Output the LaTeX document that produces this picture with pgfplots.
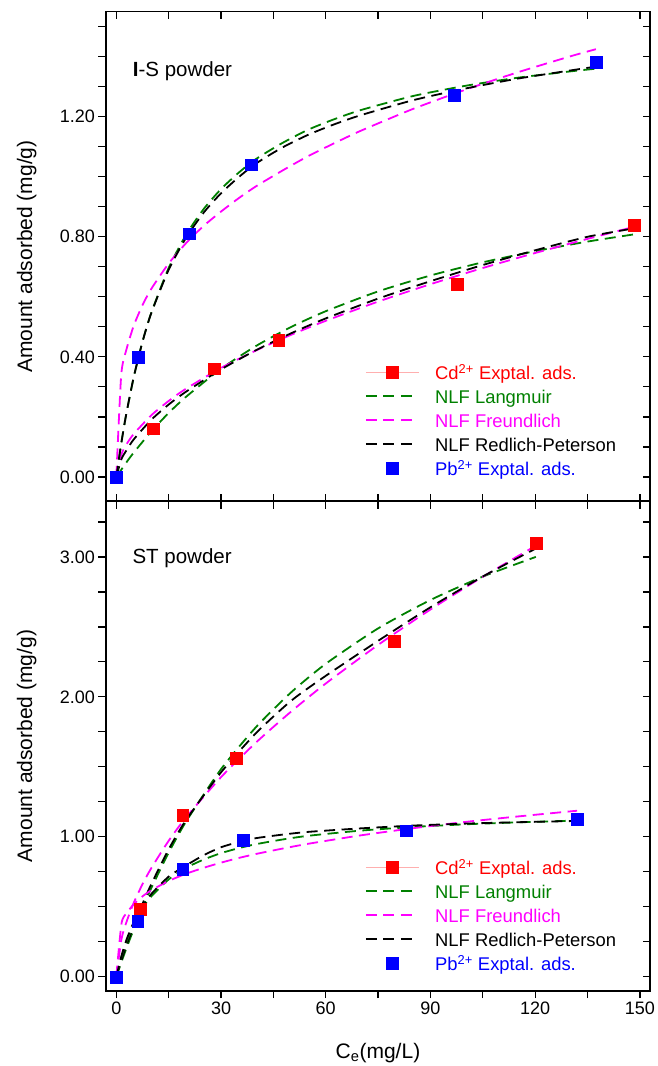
\documentclass[border=0pt]{standalone}
\usepackage{pgfplots}
\usepackage{pgfplotstable}
\pgfplotsset{compat=1.18}
\usepackage{fontspec}
\setmainfont{Liberation Sans}

\definecolor{ored}{RGB}{255,0,0}
\definecolor{oblue}{RGB}{0,0,255}
\definecolor{ogreen}{RGB}{0,128,0}
\definecolor{omag}{RGB}{255,0,255}
\definecolor{opink}{RGB}{255,175,175}

% ---- I-S powder: experimental points
\pgfplotstableread{
x y
0 0
10.6 0.161
27.9 0.361
46.5 0.456
97.6 0.643
148.3 0.839
}\isCdPts
\pgfplotstableread{
x y
0 0
6.3 0.400
20.8 0.811
38.6 1.041
96.8 1.272
137.4 1.382
}\isPbPts
% ---- I-S powder: fitted curves (L = Langmuir, F = Freundlich, R = Redlich-Peterson)
\pgfplotstableread{
x L F R
0 0 0 0
1.5 0.025 0.076 0.060
3 0.050 0.110 0.090
5 0.081 0.143 0.125
10 0.151 0.205 0.190
15 0.213 0.253 0.241
20 0.267 0.294 0.284
30 0.360 0.363 0.358
40 0.436 0.421 0.422
50 0.499 0.473 0.478
60 0.552 0.520 0.528
75 0.618 0.584 0.594
90 0.671 0.642 0.652
105 0.715 0.696 0.706
120 0.752 0.746 0.755
135 0.784 0.793 0.800
148.3 0.808 0.833 0.828
}\isCdFit
\pgfplotstableread{
x L F R
0 0 0 0
1.4 0.110 0.338 0.110
2.8 0.206 0.420 0.206
5 0.332 0.504 0.333
7.5 0.450 0.572 0.450
10 0.546 0.626 0.545
15 0.696 0.711 0.690
20 0.807 0.779 0.797
25 0.892 0.836 0.880
30 0.959 0.884 0.945
35 1.013 0.928 0.998
40 1.059 0.968 1.044
47.5 1.112 1.020 1.097
55 1.157 1.069 1.140
62.5 1.192 1.112 1.175
70 1.222 1.153 1.205
85 1.269 1.226 1.255
100 1.303 1.290 1.294
115 1.330 1.348 1.327
130 1.351 1.401 1.354
137.4 1.360 1.425 1.367
}\isPbFit

% ---- ST powder: experimental points
\pgfplotstableread{
x y
0 0
6.8 0.484
19.0 1.155
34.3 1.564
79.5 2.398
120.2 3.100
}\stCdPts
\pgfplotstableread{
x y
0 0
6.1 0.398
19.0 0.769
36.4 0.976
83.0 1.044
132.0 1.124
}\stPbPts
% ---- ST powder: fitted curves
\pgfplotstableread{
x L F R
0 0 0 0
1.5 0.107 0.271 0.12
3 0.210 0.397 0.23
5 0.339 0.528 0.36
7.5 0.491 0.661 0.52
10 0.632 0.775 0.66
15 0.886 0.971 0.91
20 1.109 1.139 1.12
30 1.483 1.426 1.46
40 1.783 1.673 1.74
50 2.030 1.893 1.97
60 2.236 2.095 2.15
75 2.489 2.371 2.40
90 2.692 2.624 2.64
105 2.859 2.858 2.86
120.2 3.000 3.080 3.06
}\stCdFit
\pgfplotstableread{
x L F R
0 0 0 0
1.5 0.144 0.382 0.150
3 0.257 0.455 0.270
5 0.376 0.518 0.390
7.5 0.488 0.574 0.500
10 0.573 0.617 0.590
15 0.695 0.684 0.715
20 0.778 0.736 0.795
25 0.837 0.778 0.868
30 0.883 0.815 0.925
35 0.918 0.848 0.962
40 0.947 0.877 0.990
47.5 0.980 0.915 1.015
55 1.007 0.950 1.035
70 1.044 1.010 1.060
85 1.070 1.061 1.080
100 1.089 1.106 1.094
115 1.103 1.145 1.104
132 1.116 1.186 1.113
}\stPbFit

\pgfplotsset{
  panel/.style={
    width=544pt, height=489.5pt, scale only axis, anchor=south west,
    xmin=-2.95, xmax=152.9,
    xtick={-30,0,30,60,90,120,150,180}, minor x tick num=1,
    /pgf/number format/assume math mode=true,
    tick label style={font=\fontsize{18}{21}\selectfont},
    major tick length=7.5pt, minor tick length=7.5pt,
    tick style={black, line width=1.3pt},
    axis line style={line width=1.6pt},
    yticklabel style={/pgf/number format/.cd, fixed, fixed zerofill, precision=2},
    every axis y label/.style={at={(axis description cs:-0.136,0.5)}, rotate=90,
      anchor=base, font=\fontsize{21}{25}\selectfont},
    every axis x label/.style={at={(axis description cs:0.5,-0.139)}, anchor=base,
      font=\fontsize{21}{25}\selectfont},
  },
  over/.style={axis y line*=left, axis line style={draw=none}, tick align=outside},
  main/.style={tick align=inside, ytick pos=right, xticklabels={}, yticklabels={},
    legend cell align=left,
    legend image code/.code={\draw[##1] (0pt,0pt) -- (48pt,0pt);},
    legend style={draw=none, fill=none, anchor=north west, inner sep=0pt, outer sep=0pt,
      font=\fontsize{18.4}{21}\selectfont, row sep=2.2pt, column sep=16pt,
      nodes={inner sep=0pt, text height=18.5pt, text depth=3.3pt}},
  },
  pts/.style={only marks, mark=square*, mark size=5.9pt, mark options={line width=0.1pt}},
  fit/.style={no marks, smooth, tension=0.4, line width=1.8pt, dash pattern=on 11pt off 6.5pt},
  cdimg/.style={legend image code/.code={%
    \draw[opink, line width=0.7pt] (0pt,0pt) -- (53pt,0pt);
    \fill[ored] (20.6pt,-5.9pt) rectangle (32.4pt,5.9pt);}},
  pbimg/.style={legend image code/.code={%
    \fill[oblue] (20.6pt,-5.9pt) rectangle (32.4pt,5.9pt);}},
}

\begin{document}
\begin{tikzpicture}
\useasboundingbox (-106pt,-75.3pt) rectangle (552pt,990.7pt);

% ================= I-S powder (top)
\begin{axis}[panel, over, at={(0pt,489.5pt)},
  ymin=-0.081, ymax=1.55, ytick={-0.4,0,0.4,0.8,1.2,1.6}, minor y tick num=3,
  hide x axis, ylabel={Amount adsorbed (mg/g)}]
\end{axis}
\begin{axis}[panel, main, at={(0pt,489.5pt)},
  ymin=-0.081, ymax=1.55, ytick={-0.4,0,0.4,0.8,1.2,1.6}, minor y tick num=3,
  xtick pos=both,
  legend style={at={(0.476,0.28621)}}]
\addplot[pts, ored, cdimg] table {\isCdPts};
\addlegendentry{\textcolor{ored}{Cd\textsuperscript{2+} Exptal. ads.}}
\addplot[pts, oblue, forget plot] table {\isPbPts};
\addplot[fit, ogreen] table[x=x, y=L] {\isCdFit};
\addlegendentry{\textcolor{ogreen}{NLF Langmuir}}
\addplot[fit, omag] table[x=x, y=F] {\isCdFit};
\addlegendentry{\textcolor{omag}{NLF Freundlich}}
\addplot[fit, black] table[x=x, y=R] {\isCdFit};
\addlegendentry{NLF Redlich-Peterson}
\addplot[fit, ogreen, forget plot] table[x=x, y=L] {\isPbFit};
\addplot[fit, omag, forget plot] table[x=x, y=F] {\isPbFit};
\addplot[fit, black, forget plot] table[x=x, y=R] {\isPbFit};
\addlegendimage{pbimg}
\addlegendentry{\textcolor{oblue}{Pb\textsuperscript{2+} Exptal. ads.}}
\node[anchor=base west, inner sep=0pt, font=\fontsize{20.5}{24}\selectfont]
  at (axis cs:4.7,1.3357) {\textbf{I}-S powder};
\end{axis}

% ================= ST powder (bottom)
\begin{axis}[panel, over, at={(0pt,0pt)}, axis x line*=bottom,
  ymin=-0.1, ymax=3.398, ytick={-1,0,1,2,3,4}, minor y tick num=3,
  ylabel={Amount adsorbed (mg/g)}, xlabel={C\textsubscript{e}(mg/L)}]
\end{axis}
\begin{axis}[panel, main, at={(0pt,0pt)},
  ymin=-0.1, ymax=3.398, ytick={-1,0,1,2,3,4}, minor y tick num=3,
  xtick pos=top,
  legend style={at={(0.476,0.27497)}}]
\addplot[pts, ored, cdimg] table {\stCdPts};
\addlegendentry{\textcolor{ored}{Cd\textsuperscript{2+} Exptal. ads.}}
\addplot[pts, oblue, forget plot] table {\stPbPts};
\addplot[fit, ogreen] table[x=x, y=L] {\stCdFit};
\addlegendentry{\textcolor{ogreen}{NLF Langmuir}}
\addplot[fit, omag] table[x=x, y=F] {\stCdFit};
\addlegendentry{\textcolor{omag}{NLF Freundlich}}
\addplot[fit, black] table[x=x, y=R] {\stCdFit};
\addlegendentry{NLF Redlich-Peterson}
\addplot[fit, ogreen, forget plot] table[x=x, y=L] {\stPbFit};
\addplot[fit, omag, forget plot] table[x=x, y=F] {\stPbFit};
\addplot[fit, black, forget plot] table[x=x, y=R] {\stPbFit};
\addlegendimage{pbimg}
\addlegendentry{\textcolor{oblue}{Pb\textsuperscript{2+} Exptal. ads.}}
\node[anchor=base west, inner sep=0pt, font=\fontsize{20.5}{24}\selectfont]
  at (axis cs:4.6,2.953) {ST powder};
\end{axis}
\end{tikzpicture}
\end{document}
